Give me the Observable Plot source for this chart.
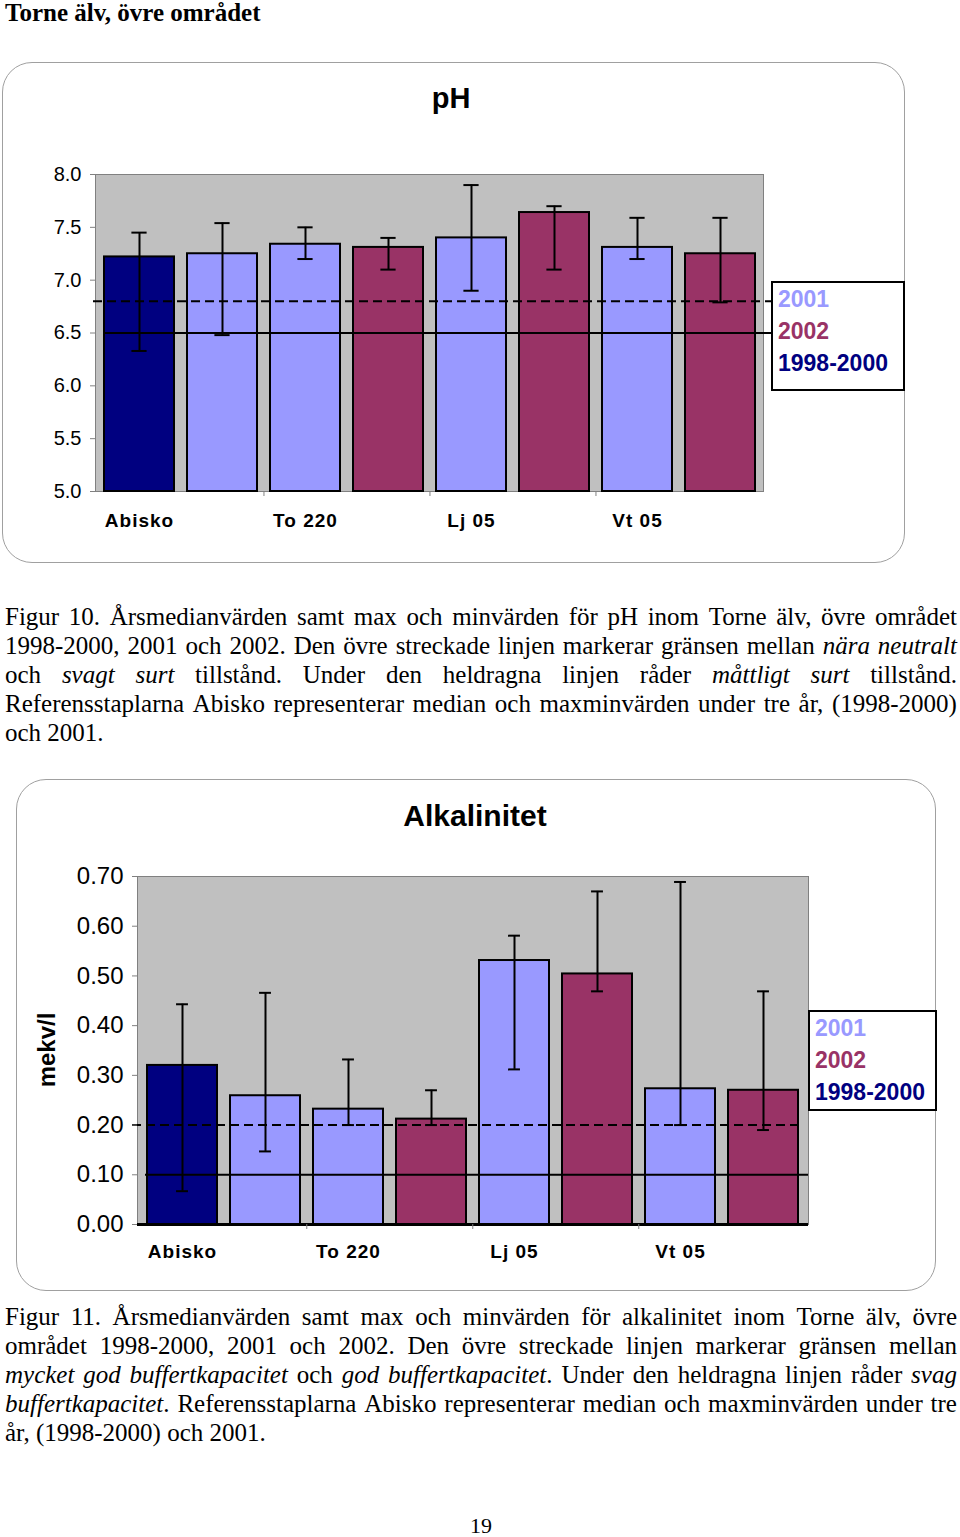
<!DOCTYPE html>
<html>
<head>
<meta charset="utf-8">
<script src="https://cdn.jsdelivr.net/npm/d3@7"></script>
<script src="https://cdn.jsdelivr.net/npm/@observablehq/plot@0.6"></script>
<style>
  body { margin: 0; background: #fff; }
  #page { position: relative; width: 960px; height: 1537px; overflow: hidden; background: #fff; }
  .panel { position: absolute; box-sizing: border-box; border: 1.5px solid #a0a0a0; border-radius: 30px; background: #fff; }
  .title { position: absolute; font-family: "Liberation Sans", Arial, sans-serif; font-weight: bold; line-height: 1; white-space: nowrap; transform: translateX(-50%); color: #000; }
  .legend { position: absolute; box-sizing: border-box; border: 2px solid #000; background: #fff; font-family: "Liberation Sans", Arial, sans-serif; font-weight: bold; font-size: 23px; line-height: 32px; padding-left: 5px; }
  .cap { position: absolute; left: 5px; width: 952px; font-family: "Liberation Serif", "Times New Roman", serif; font-size: 25px; line-height: 29px; color: #000; }
  .cap .ln { display: flex; justify-content: space-between; height: 29px; white-space: nowrap; }
  .cap .last { height: 29px; white-space: nowrap; }
  .chart { position: absolute; }
  .chart g[aria-label="x-axis tick label"] text { letter-spacing: 1px; }
  .ylab { position: absolute; font-family: "Liberation Sans", Arial, sans-serif; font-weight: bold; font-size: 24px; line-height: 1; white-space: nowrap; transform: translate(-50%, -50%) rotate(-90deg); }
</style>
</head>
<body>
<div id="page"></div>
<script>
// ---------- data ----------
const groups = ["Abisko", "To 220", "Lj 05", "Vt 05"];
const barGroup = ["Abisko", "Abisko", "To 220", "To 220", "Lj 05", "Lj 05", "Vt 05", "Vt 05"];
const barSeries = ["1998-2000", "2001", "2001", "2002", "2001", "2002", "2001", "2002"];
const seriesNames = ["2001", "2002", "1998-2000"];
const seriesColors = ["#9999ff", "#993366", "#000080"];

const phMedian = [7.22, 7.25, 7.34, 7.31, 7.40, 7.64, 7.31, 7.25];
const phMax    = [7.45, 7.54, 7.50, 7.40, 7.90, 7.70, 7.59, 7.59];
const phMin    = [6.33, 6.48, 7.20, 7.10, 6.90, 7.10, 7.20, 6.79];
const phDashed = 6.8;
const phSolid = 6.5;
const phTicks = [5.0, 5.5, 6.0, 6.5, 7.0, 7.5, 8.0];

const alkMedian = [0.320, 0.259, 0.232, 0.212, 0.531, 0.504, 0.273, 0.270];
const alkMax    = [0.443, 0.466, 0.332, 0.270, 0.581, 0.670, 0.689, 0.469];
const alkMin    = [0.067, 0.147, 0.200, 0.200, 0.312, 0.469, 0.200, 0.190];
const alkDashed = 0.2;
const alkSolid = 0.1;
const alkTicks = [0.0, 0.1, 0.2, 0.3, 0.4, 0.5, 0.6, 0.7];

const header = "Torne älv, övre området";
const fig10 = [
  "Figur 10. Årsmedianvärden samt max och minvärden för pH inom Torne älv, övre området",
  "1998-2000, 2001 och 2002. Den övre streckade linjen markerar gränsen mellan _nära neutralt_",
  "och _svagt surt_ tillstånd. Under den heldragna linjen råder _måttligt surt_ tillstånd.",
  "Referensstaplarna Abisko representerar median och maxminvärden under tre år, (1998-2000)",
  "och 2001."
];
const fig11 = [
  "Figur 11. Årsmedianvärden samt max och minvärden för alkalinitet inom Torne älv, övre",
  "området 1998-2000, 2001 och 2002. Den övre streckade linjen markerar gränsen mellan",
  "_mycket god buffertkapacitet_ och _god buffertkapacitet_. Under den heldragna linjen råder _svag_",
  "_buffertkapacitet_. Referensstaplarna Abisko representerar median och maxminvärden under tre",
  "år, (1998-2000) och 2001."
];
const pageNumber = "19";

// ---------- helpers ----------
const page = document.getElementById("page");
function el(tag, cls, style, html) {
  const e = document.createElement(tag);
  if (cls) e.className = cls;
  if (style) Object.assign(e.style, style);
  if (html != null) e.innerHTML = html;
  page.appendChild(e);
  return e;
}
function esc(s) { return s.replace(/&/g, "&amp;").replace(/</g, "&lt;"); }
function lineWords(line) {
  const words = [];
  let italic = false, cur = "", buf = "";
  const flush = () => { if (buf) { cur += italic ? "<i>" + esc(buf) + "</i>" : esc(buf); buf = ""; } };
  for (const ch of line) {
    if (ch === "_") { flush(); italic = !italic; }
    else if (ch === " ") { flush(); if (cur) words.push(cur); cur = ""; }
    else buf += ch;
  }
  flush(); if (cur) words.push(cur);
  return words;
}
function caption(lines, top) {
  const c = el("div", "cap", {top: top + "px"});
  lines.forEach((ln, k) => {
    const words = lineWords(ln);
    const d = document.createElement("div");
    if (k === lines.length - 1) { d.className = "last"; d.innerHTML = words.join(" "); }
    else { d.className = "ln"; d.innerHTML = words.map(w => "<span>" + w + "</span>").join(""); }
    c.appendChild(d);
  });
}

function makeChart(o) {
  const data = barGroup.map((g, i) => ({i, group: g, series: barSeries[i], med: o.med[i], max: o.max[i], min: o.min[i]}));
  const W = o.width - o.ml - o.mr;
  const H = o.height - o.mt - o.mb;
  const pIn = 0.16, pOut = 0.1;
  const step = W / (barGroup.length - pIn + 2 * pOut);
  const bw = step * (1 - pIn);
  const capIn = (bw - o.cap) / 2;
  const marks = [
    Plot.frame({fill: "#c0c0c0", stroke: "#808080"}),
    Plot.barY(data, {x: "i", y1: o.domain[0], y2: "med", fill: "series", stroke: "#000", strokeWidth: 2})
  ];
  if (o.baseline) marks.push(Plot.ruleY([o.domain[0]], {stroke: "#000", strokeWidth: 3}));
  marks.push(
    Plot.ruleY([o.dashed], {stroke: "#000", strokeWidth: 2, strokeDasharray: "9,5", insetLeft: o.dL, insetRight: o.dR}),
    Plot.ruleY([o.solid], {stroke: "#000", strokeWidth: 2, insetLeft: o.sL, insetRight: o.sR}),
    Plot.ruleX(data, {x: "i", y1: "min", y2: "max", stroke: "#000", strokeWidth: 2}),
    Plot.tickY(data, {x: "i", y: "max", stroke: "#000", strokeWidth: 2, insetLeft: capIn, insetRight: capIn}),
    Plot.tickY(data, {x: "i", y: "min", stroke: "#000", strokeWidth: 2, insetLeft: capIn, insetRight: capIn}),
    Plot.ruleX(data.filter(d => d.i > 0 && barGroup[d.i] !== barGroup[d.i - 1]), {x: "i", dx: -step / 2, insetTop: H, insetBottom: -5, stroke: "#808080", strokeWidth: 1}),
    Plot.axisY(o.ticks, {tickFormat: d3.format(o.fmt), tickSize: 5, tickPadding: 9, fontSize: o.fs, stroke: "#808080", fill: "#000", label: null}),
    Plot.axisX({tickSize: 0, tickPadding: o.xpad, tickFormat: i => (i === 0 || barGroup[i] !== barGroup[i - 1]) ? barGroup[i] : "", fontSize: 19, fontWeight: "bold", fill: "#000", label: null})
  );
  const svg = Plot.plot({
    width: o.width, height: o.height,
    marginLeft: o.ml, marginRight: o.mr, marginTop: o.mt, marginBottom: o.mb,
    style: {fontFamily: "'Liberation Sans', Arial, sans-serif", background: "transparent", color: "#000", overflow: "visible"},
    x: {type: "band", domain: d3.range(barGroup.length), paddingInner: pIn, paddingOuter: pOut, align: 0.5},
    y: {domain: o.domain},
    color: {domain: seriesNames, range: seriesColors},
    marks
  });
  svg.classList.add("chart");
  Object.assign(svg.style, {left: o.left + "px", top: o.top + "px", position: "absolute"});
  page.appendChild(svg);
}
function legend(left, top, w, h) {
  const box = el("div", "legend", {left: left + "px", top: top + "px", width: w + "px", height: h + "px"});
  box.innerHTML = seriesNames.map((s, k) => `<div style="color:${seriesColors[k]}">${s}</div>`).join("");
}

// ---------- header ----------
el("div", null, {position: "absolute", left: "5px", top: "0px", fontFamily: "'Liberation Serif','Times New Roman',serif", fontWeight: "bold", fontSize: "25px", lineHeight: "25px", whiteSpace: "nowrap"}, esc(header));

// ---------- pH ----------
el("div", "panel", {left: "2px", top: "62px", width: "903px", height: "501px"});
el("div", "title", {left: "451px", top: "84px", fontSize: "29px"}, "pH");
makeChart({
  left: 2, top: 130, width: 800, height: 400, ml: 93, mr: 39, mt: 44, mb: 39,
  med: phMedian, max: phMax, min: phMin, domain: [5, 8], ticks: phTicks, fmt: ".1f", fs: 20,
  dashed: phDashed, solid: phSolid, dL: -2, dR: -8, sL: 8, sR: -8, cap: 15, xpad: 22, baseline: false
});
legend(771, 281, 134, 110);
caption(fig10, 602);

// ---------- Alkalinitet ----------
el("div", "panel", {left: "16px", top: "779px", width: "920px", height: "512px"});
el("div", "title", {left: "475px", top: "801px", fontSize: "30px"}, "Alkalinitet");
el("div", "ylab", {left: "47px", top: "1050px"}, "mekv/l");
makeChart({
  left: 16, top: 840, width: 830, height: 440, ml: 121, mr: 38, mt: 36, mb: 56,
  med: alkMedian, max: alkMax, min: alkMin, domain: [0, 0.7], ticks: alkTicks, fmt: ".2f", fs: 24,
  dashed: alkDashed, solid: alkSolid, dL: -5, dR: 6, sL: 8, sR: 0, cap: 12, xpad: 20, baseline: true
});
legend(808, 1010, 129, 101);
caption(fig11, 1302);

// ---------- page number ----------
el("div", null, {position: "absolute", left: "481px", top: "1515px", transform: "translateX(-50%)", fontFamily: "'Liberation Serif','Times New Roman',serif", fontSize: "22px", lineHeight: "1"}, pageNumber);
</script>
</body>
</html>
